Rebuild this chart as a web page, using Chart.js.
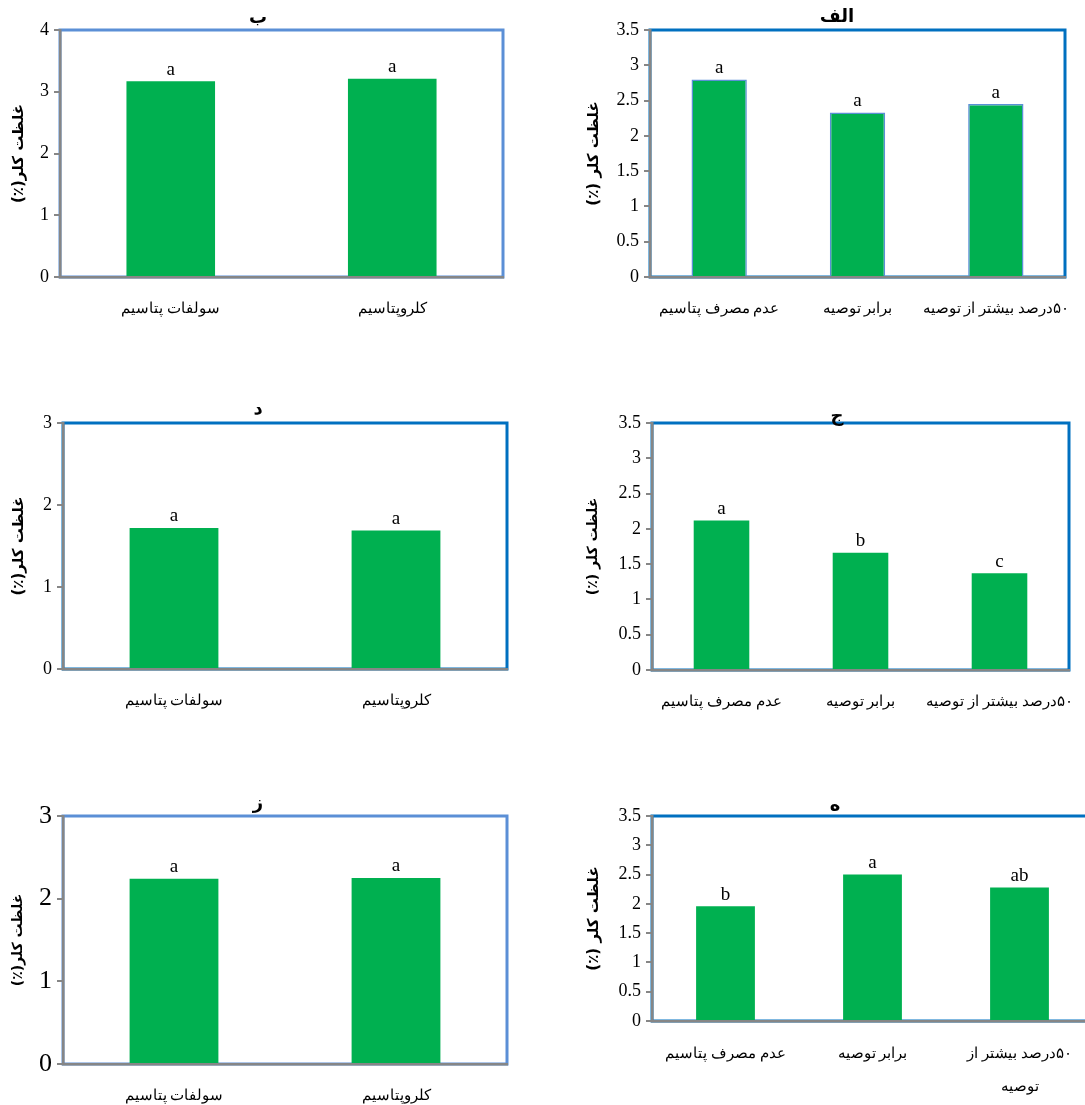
<!DOCTYPE html>
<html>
<head>
<meta charset="utf-8">
<script src="https://cdn.jsdelivr.net/npm/chart.js@4.4.1/dist/chart.umd.min.js"></script>
<style>
  body { margin: 0; background: #fff; }
  #page { position: relative; width: 1085px; height: 1105px; overflow: hidden; background: #fff; }
  #page canvas { position: absolute; }
</style>
</head>
<body>
<div id="page"></div>
<script>
// categories
const catsTwo = ['سولفات پتاسیم', 'کلروپتاسیم'];
const catsThree = ['عدم مصرف پتاسیم', 'برابر توصیه', '۵۰درصد بیشتر از توصیه'];
const catsThreeWrapped = ['عدم مصرف پتاسیم', 'برابر توصیه', ['۵۰درصد بیشتر از', 'توصیه']];

// values (chlorine concentration, %)
const valuesBe   = [3.17, 3.21];
const valuesAlef = [2.80, 2.33, 2.45];
const valuesDal  = [1.72, 1.69];
const valuesJim  = [2.12, 1.66, 1.37];
const valuesZe   = [2.24, 2.25];
const valuesHe   = [1.96, 2.50, 2.28];

// mean comparison letters
const lettersBe   = ['a', 'a'];
const lettersAlef = ['a', 'a', 'a'];
const lettersDal  = ['a', 'a'];
const lettersJim  = ['a', 'b', 'c'];
const lettersZe   = ['a', 'a'];
const lettersHe   = ['b', 'a', 'ab'];

const yTitleTight = 'غلظت کلر(٪)';
const yTitleSpaced = 'غلظت کلر (٪)';

const GREEN = '#00b050';
const LIGHT_BLUE = '#5b8fd6';
const DARK_BLUE = '#0070c0';
const AXIS_GREY = '#868686';
const SERIF = "'Liberation Serif', 'Times New Roman', 'DejaVu Serif', serif";
const SANS = "'DejaVu Sans', 'Noto Sans', sans-serif";

// panel layout: canvas box and plot box in page coords
const panels = [
  { title: 'ب', titleAt: [258, 18], labels: catsTwo, values: valuesBe, letters: lettersBe,
    yTitle: yTitleTight, yTitleSize: 15, max: 4, step: 1, tickSize: 18, box: LIGHT_BLUE,
    canvas: [0, 0, 520, 330], area: [60, 30, 503, 277] },
  { title: 'الف', titleAt: [837, 17], labels: catsThree, values: valuesAlef, letters: lettersAlef,
    yTitle: yTitleSpaced, yTitleSize: 15, max: 3.5, step: 0.5, tickSize: 18, box: DARK_BLUE,
    barBorder: LIGHT_BLUE, canvas: [575, 0, 525, 330], area: [650, 30, 1065, 277] },
  { title: 'د', titleAt: [258, 409], labels: catsTwo, values: valuesDal, letters: lettersDal,
    yTitle: yTitleTight, yTitleSize: 15, max: 3, step: 1, tickSize: 18, box: DARK_BLUE,
    canvas: [0, 390, 520, 340], area: [63, 423, 507, 669] },
  { title: 'ج', titleAt: [837, 416], labels: catsThree, values: valuesJim, letters: lettersJim,
    yTitle: yTitleSpaced, yTitleSize: 14, max: 3.5, step: 0.5, tickSize: 18, box: DARK_BLUE,
    canvas: [575, 390, 525, 340], area: [652, 423, 1069, 670] },
  { title: 'ز', titleAt: [258, 804], labels: catsTwo, values: valuesZe, letters: lettersZe,
    yTitle: yTitleTight, yTitleSize: 14, max: 3, step: 1, tickSize: 26, box: LIGHT_BLUE,
    canvas: [0, 780, 520, 325], area: [63, 816, 507, 1064] },
  { title: 'ه', titleAt: [835, 806], labels: catsThreeWrapped, values: valuesHe, letters: lettersHe,
    yTitle: yTitleSpaced, yTitleSize: 15, max: 3.5, step: 0.5, tickSize: 18, box: DARK_BLUE,
    labelLineHeight: 2.2, labelPad: 9, canvas: [575, 780, 525, 325], area: [652, 816, 1093, 1021] }
];

// frame around the plot area, drawn under the axes
const frame = {
  id: 'frame',
  beforeDraw(chart, args, opts) {
    const {ctx, chartArea: a} = chart;
    ctx.save();
    ctx.strokeStyle = opts.color;
    ctx.lineWidth = 3;
    ctx.strokeRect(a.left, a.top, a.right - a.left, a.bottom - a.top);
    ctx.restore();
  }
};

// letters over bars + panel caption
const marks = {
  id: 'marks',
  afterDatasetsDraw(chart, args, opts) {
    const ctx = chart.ctx;
    const meta = chart.getDatasetMeta(0);
    ctx.save();
    ctx.fillStyle = '#000';
    ctx.textAlign = 'center';
    ctx.textBaseline = 'bottom';
    ctx.font = '19px ' + SERIF;
    meta.data.forEach((bar, i) => ctx.fillText(opts.letters[i], bar.x, bar.y - 2));
    ctx.font = 'bold 18px ' + SANS;
    ctx.textBaseline = 'middle';
    ctx.fillText(opts.title, opts.titleX, opts.titleY);
    ctx.restore();
  }
};

const page = document.getElementById('page');

panels.forEach(p => {
  const [cx, cy, cw, ch] = p.canvas;
  const [al, at, ar, ab] = p.area;
  const cv = document.createElement('canvas');
  cv.width = cw;
  cv.height = ch;
  cv.setAttribute('dir', 'rtl');
  cv.style.left = cx + 'px';
  cv.style.top = cy + 'px';
  page.appendChild(cv);

  new Chart(cv, {
    type: 'bar',
    data: {
      labels: p.labels,
      datasets: [{
        data: p.values,
        backgroundColor: GREEN,
        borderColor: p.barBorder || GREEN,
        borderWidth: p.barBorder ? 1.5 : 0,
        barPercentage: 0.4,
        categoryPercentage: 1
      }]
    },
    options: {
      responsive: false,
      animation: false,
      layout: { padding: { top: at - cy, right: cx + cw - ar, left: 0, bottom: 0 } },
      plugins: {
        legend: { display: false },
        tooltip: { enabled: false },
        frame: { color: p.box },
        marks: { letters: p.letters, title: p.title, titleX: p.titleAt[0] - cx, titleY: p.titleAt[1] - cy }
      },
      scales: {
        x: {
          grid: { display: false },
          border: { display: true, color: AXIS_GREY, width: 2.5 },
          ticks: {
            color: '#000',
            maxRotation: 0,
            autoSkip: false,
            padding: p.labelPad || 15,
            font: { family: SERIF, size: 15, lineHeight: p.labelLineHeight || 1.2 }
          },
          afterFit: s => { s.height = cy + ch - ab; }
        },
        y: {
          min: 0,
          max: p.max,
          ticks: {
            stepSize: p.step,
            color: '#000',
            padding: 5,
            font: { family: SERIF, size: p.tickSize },
            callback: v => String(v)
          },
          grid: { drawOnChartArea: false, drawTicks: true, tickLength: 6, color: AXIS_GREY, lineWidth: 2 },
          border: { display: true, color: AXIS_GREY, width: 2.5 },
          title: {
            display: true,
            text: p.yTitle,
            color: '#000',
            padding: { top: 10, bottom: 0 },
            font: { family: SANS, size: p.yTitleSize, weight: 'bold' }
          },
          afterFit: s => { s.width = al - cx; }
        }
      }
    },
    plugins: [frame, marks]
  });
});
</script>
</body>
</html>
